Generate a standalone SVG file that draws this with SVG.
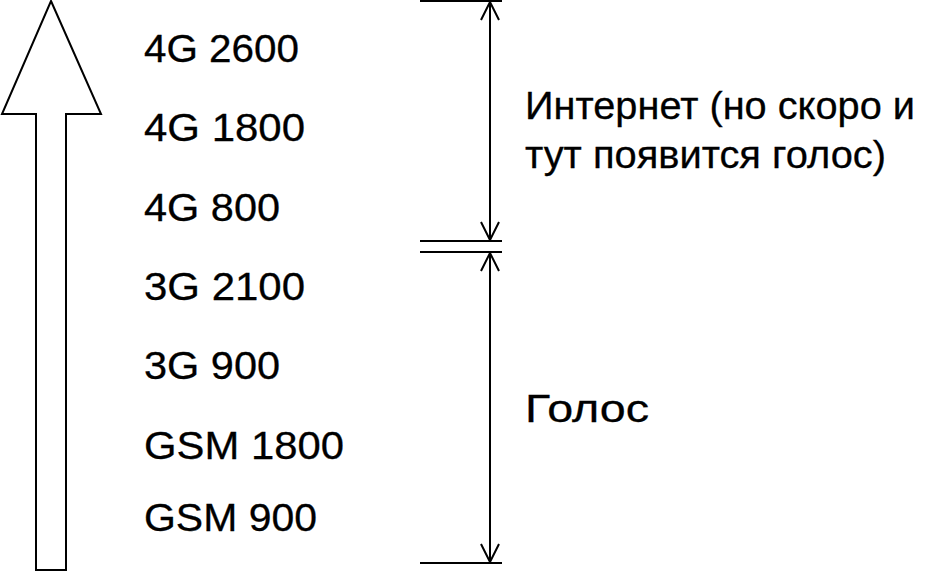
<svg xmlns="http://www.w3.org/2000/svg" width="942" height="572" viewBox="0 0 942 572">
<style>
text{font-family:"Liberation Sans",Arial,sans-serif;font-size:39px;fill:#000;stroke:#000;stroke-width:0.3}
.ln{stroke:#000;stroke-width:2;fill:none}
</style>
<defs>
<marker id="ah" viewBox="0 0 20 20" refX="19" refY="10" markerWidth="20" markerHeight="20" markerUnits="userSpaceOnUse" orient="auto">
<path d="M1,1 L19,10 L1,19" fill="none" stroke="#000" stroke-width="2"/>
</marker>
</defs>
<rect width="942" height="572" fill="#fff"/>
<g id="big-arrow">
<path d="M51,1 L101,114 L66,114 L66,570 L36,570 L36,114 L2,114 Z" fill="#fff" stroke="#000" stroke-width="2" stroke-linejoin="miter"/>
</g>
<g id="labels">
<text x="144" y="62" textLength="155" lengthAdjust="spacingAndGlyphs">4G 2600</text>
<text x="144" y="141" textLength="161" lengthAdjust="spacingAndGlyphs">4G 1800</text>
<text x="144" y="221" textLength="136" lengthAdjust="spacingAndGlyphs">4G 800</text>
<text x="144" y="300" textLength="161" lengthAdjust="spacingAndGlyphs">3G 2100</text>
<text x="144" y="379" textLength="136" lengthAdjust="spacingAndGlyphs">3G 900</text>
<text x="144" y="459" textLength="200" lengthAdjust="spacingAndGlyphs">GSM 1800</text>
<text x="144" y="531" textLength="173" lengthAdjust="spacingAndGlyphs">GSM 900</text>
</g>
<g id="connectors">
<line class="ln" x1="420" y1="1" x2="502" y2="1"/>
<line class="ln" x1="420" y1="241" x2="502" y2="241"/>
<line class="ln" x1="420" y1="252" x2="502" y2="252"/>
<line class="ln" x1="420" y1="563" x2="502" y2="563"/>
<line class="ln" x1="490" y1="121" x2="490" y2="2" marker-end="url(#ah)"/>
<line class="ln" x1="490" y1="121" x2="490" y2="240" marker-end="url(#ah)"/>
<line class="ln" x1="490" y1="407" x2="490" y2="253" marker-end="url(#ah)"/>
<line class="ln" x1="490" y1="407" x2="490" y2="562" marker-end="url(#ah)"/>
</g>
<g id="internet">
<text x="525" y="119" textLength="390" lengthAdjust="spacingAndGlyphs">Интернет (но скоро и</text>
<text x="525" y="168" textLength="361" lengthAdjust="spacingAndGlyphs">тут появится голос)</text>
</g>
<g id="voice">
<text x="525" y="422" textLength="124" lengthAdjust="spacingAndGlyphs">Голос</text>
</g>
</svg>
